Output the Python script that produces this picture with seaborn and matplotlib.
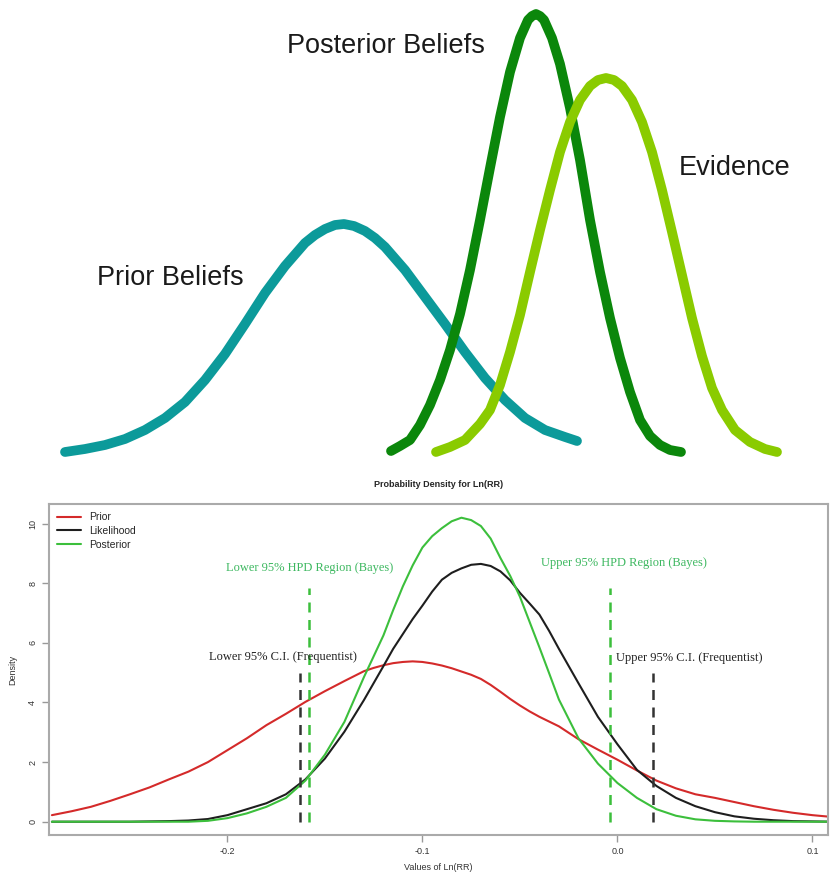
import numpy as np
import pandas as pd
import matplotlib
matplotlib.use('Agg')
import matplotlib.pyplot as plt
import seaborn as sns

# ---- top panel: schematic belief curves (position, depth from the top) ----
prior_pos = [65, 85, 105, 125, 145, 165, 185, 205, 225, 245, 265, 285, 305, 315, 325,
             335, 344, 354, 365, 375, 385, 405, 425, 445, 465, 485, 505, 525, 545, 565, 577]
prior_y = [452, 449, 445, 439, 430, 418, 402, 380, 354, 324, 293, 266, 243, 235, 229,
           225, 224, 226, 231, 238, 247, 270, 297, 324, 352, 378, 400, 418, 430, 437, 441]
post_pos = [391, 400, 410, 420, 430, 440, 450, 460, 470, 480, 490, 500, 510, 520, 528,
            532, 536, 540, 544, 552, 560, 570, 580, 590, 600, 610, 620, 630, 640, 650,
            660, 670, 681]
post_y = [451, 446, 440, 425, 405, 380, 350, 314, 270, 220, 168, 117, 72, 38, 20,
          16, 14, 16, 20, 38, 64, 108, 160, 220, 272, 318, 358, 392, 420, 436,
          445, 450, 452]
evid_pos = [436, 450, 465, 480, 490, 500, 510, 520, 530, 540, 550, 560, 570, 580, 590,
            598, 606, 614, 622, 632, 642, 652, 662, 672, 682, 692, 702, 712, 722, 735,
            750, 765, 777]
evid_y = [452, 447, 440, 424, 410, 385, 352, 315, 272, 230, 190, 152, 122, 100, 86,
          80, 78, 80, 86, 100, 122, 152, 190, 232, 275, 318, 356, 388, 410, 430,
          442, 449, 452]

# ---- bottom panel: densities of Ln(RR) ----
x_vals = [-0.29, -0.28, -0.27, -0.26, -0.25, -0.24, -0.23, -0.22, -0.21, -0.20,
          -0.19, -0.18, -0.17, -0.16, -0.15, -0.14, -0.13,
          -0.125, -0.12, -0.115, -0.11, -0.105, -0.10, -0.095, -0.09, -0.085, -0.08,
          -0.075, -0.07, -0.065, -0.06, -0.055, -0.05, -0.045, -0.04, -0.035, -0.03,
          -0.02, -0.01, 0.00, 0.01, 0.02, 0.03, 0.04, 0.05, 0.06, 0.07, 0.08, 0.09,
          0.10, 0.11]
prior_d = [0.22, 0.35, 0.50, 0.70, 0.92, 1.15, 1.42, 1.68, 2.00, 2.40,
           2.80, 3.24, 3.62, 4.02, 4.38, 4.72, 5.05,
           5.16, 5.25, 5.32, 5.36, 5.38, 5.36, 5.31, 5.24, 5.15, 5.04,
           4.93, 4.79, 4.59, 4.36, 4.12, 3.90, 3.70, 3.52, 3.36, 3.20,
           2.77, 2.42, 2.08, 1.72, 1.38, 1.12, 0.92, 0.80, 0.66, 0.52, 0.40, 0.30,
           0.22, 0.16]
like_d = [0.0, 0.0, 0.0, 0.0, 0.0, 0.01, 0.02, 0.04, 0.09, 0.22,
          0.42, 0.62, 0.92, 1.42, 2.12, 3.02, 4.08,
          4.65, 5.22, 5.80, 6.30, 6.80, 7.25, 7.72, 8.12, 8.35, 8.50,
          8.62, 8.65, 8.58, 8.40, 8.10, 7.68, 7.32, 6.95, 6.40, 5.80,
          4.65, 3.52, 2.60, 1.74, 1.20, 0.80, 0.52, 0.32, 0.18, 0.10, 0.05, 0.02,
          0.01, 0.0]
post_d = [0.0, 0.0, 0.0, 0.0, 0.0, 0.0, 0.0, 0.0, 0.03, 0.12,
          0.28, 0.50, 0.80, 1.38, 2.25, 3.35, 4.85,
          5.55, 6.25, 7.10, 7.90, 8.60, 9.20, 9.58, 9.85, 10.08, 10.20,
          10.12, 9.92, 9.50, 8.85, 8.25, 7.55, 6.70, 5.85, 4.98, 4.10,
          2.80, 1.95, 1.30, 0.80, 0.42, 0.20, 0.08, 0.03, 0.01, 0.0, 0.0, 0.0,
          0.0, 0.0]

hpd_bounds = [-0.158, -0.004]
ci_bounds = [-0.163, 0.018]

sns.set_style('white')
plt.rcParams['font.family'] = ['Liberation Sans', 'DejaVu Sans']

fig = plt.figure(figsize=(8.3, 8.74), dpi=100)

# top schematic
ax1 = fig.add_axes([0, 1 - 470 / 874, 1, 470 / 874])
top_df = pd.concat([
    pd.DataFrame({'pos': prior_pos, 'y': prior_y, 'curve': 'Prior Beliefs'}),
    pd.DataFrame({'pos': post_pos, 'y': post_y, 'curve': 'Posterior Beliefs'}),
    pd.DataFrame({'pos': evid_pos, 'y': evid_y, 'curve': 'Evidence'}),
])
top_pal = {'Prior Beliefs': '#0c9a9a', 'Posterior Beliefs': '#0b870b', 'Evidence': '#8acb00'}
sns.lineplot(data=top_df, x='pos', y='y', hue='curve', palette=top_pal, ax=ax1,
             linewidth=7, legend=False, sort=False, estimator=None)
for ln in ax1.get_lines():
    ln.set_solid_capstyle('round')
    ln.set_solid_joinstyle('round')
ax1.set_xlim(0, 830)
ax1.set_ylim(470, 0)
ax1.axis('off')
ax1.text(386, 46, 'Posterior Beliefs', fontsize=19.5, color='#1a1a1a', ha='center', va='center')
ax1.text(735, 168, 'Evidence', fontsize=19.5, color='#1a1a1a', ha='center', va='center')
ax1.text(170, 278, 'Prior Beliefs', fontsize=19.5, color='#1a1a1a', ha='center', va='center')

# bottom density plot
ax2 = fig.add_axes([49 / 830, 39 / 874, 779 / 830, 331 / 874])
dens_df = pd.concat([
    pd.DataFrame({'x': x_vals, 'd': prior_d, 'dist': 'Prior'}),
    pd.DataFrame({'x': x_vals, 'd': like_d, 'dist': 'Likelihood'}),
    pd.DataFrame({'x': x_vals, 'd': post_d, 'dist': 'Posterior'}),
])
pal = {'Prior': '#d42a2a', 'Likelihood': '#1e1e1e', 'Posterior': '#3cbf3c'}
sns.lineplot(data=dens_df, x='x', y='d', hue='dist', palette=pal, ax=ax2,
             linewidth=1.5, estimator=None)

for b in hpd_bounds:
    ax2.plot([b, b], [0, 7.85], color='#3cbf3c', lw=1.8, dashes=(4, 3))
for b in ci_bounds:
    ax2.plot([b, b], [0, 5.0], color='#333333', lw=1.8, dashes=(4, 3))

serif = ['Liberation Serif', 'DejaVu Serif']
ax2.text(-0.158, 8.5, 'Lower 95% HPD Region (Bayes)', color='#3db860', fontsize=9,
         family=serif, ha='center', va='center')
ax2.text(0.0035, 8.69, 'Upper 95% HPD Region (Bayes)', color='#3db860', fontsize=9,
         family=serif, ha='center', va='center')
ax2.text(-0.1714, 5.52, 'Lower 95% C.I. (Frequentist)', color='#222222', fontsize=9,
         family=serif, ha='center', va='center')
ax2.text(0.0367, 5.48, 'Upper 95% C.I. (Frequentist)', color='#222222', fontsize=9,
         family=serif, ha='center', va='center')

ax2.set_xlim(-0.2915, 0.108)
ax2.set_ylim(-0.446, 10.66)
ax2.set_xticks([-0.2, -0.1, 0.0, 0.1])
ax2.set_xticklabels(['-0.2', '-0.1', '0.0', '0.1'])
ax2.set_yticks([0, 2, 4, 6, 8, 10])
ax2.tick_params(axis='both', direction='out', length=5, width=1, color='#999999',
                labelsize=6.5, labelcolor='#333333', bottom=True, left=True)
for lab in ax2.get_yticklabels():
    lab.set_rotation(90)
    lab.set_va('center')
for sp in ax2.spines.values():
    sp.set_color('#aaaaaa')
    sp.set_linewidth(1.5)
ax2.set_xlabel('Values of Ln(RR)', fontsize=6.5, color='#333333', labelpad=5)
ax2.set_ylabel('Density', fontsize=6.5, color='#333333', labelpad=8)
ax2.set_title('Probability Density for Ln(RR)', fontsize=6.5, fontweight='bold', pad=12)

leg = ax2.legend(loc='upper left', frameon=False, fontsize=7.5, handlelength=2.3,
                 labelspacing=0.35, borderaxespad=0.4, handletextpad=0.8)
for h in leg.get_lines():
    h.set_linewidth(1.5)

fig.savefig('out.png', dpi=100)
